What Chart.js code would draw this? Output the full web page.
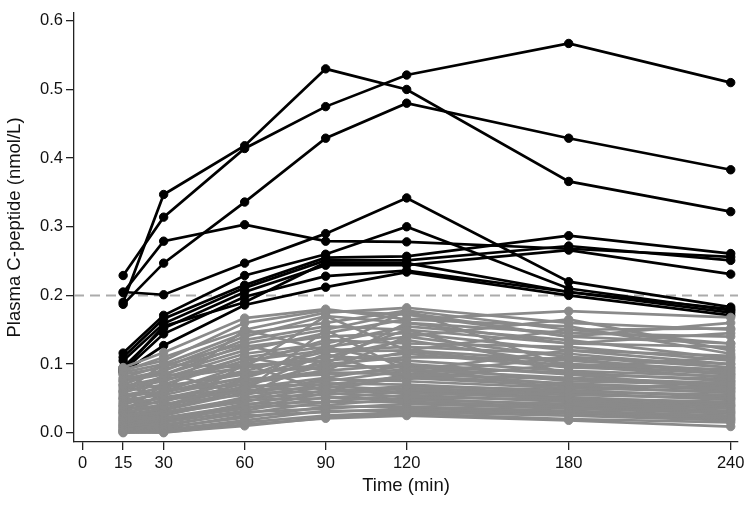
<!DOCTYPE html>
<html>
<head>
<meta charset="utf-8">
<title>Plasma C-peptide</title>
<script src="https://cdn.jsdelivr.net/npm/chart.js@4.4.0/dist/chart.umd.min.js"></script>
<style>
  html, body { margin: 0; padding: 0; background: #fff; }
  #grafico { display: block; }
</style>
</head>
<body>
<canvas id="grafico" width="754" height="508"></canvas>
<script>
// --- Dados ---
const tempos = [15, 30, 60, 90, 120, 180, 240];
const ticksX = [0, 15, 30, 60, 90, 120, 180, 240];
const ticksY = [0, 0.1, 0.2, 0.3, 0.4, 0.5, 0.6];
const limiar = 0.2; // linha tracejada

// pacientes com pico acima do limiar (pretos)
const respondedores = [
  [0.190, 0.347, 0.418, 0.530, 0.500, 0.366, 0.322],
  [0.229, 0.314, 0.414, 0.475, 0.521, 0.567, 0.510],
  [0.187, 0.247, 0.336, 0.429, 0.480, 0.429, 0.383],
  [0.204, 0.279, 0.303, 0.279, 0.278, 0.268, 0.256],
  [0.205, 0.201, 0.247, 0.290, 0.342, 0.220, 0.183],
  [0.116, 0.171, 0.229, 0.260, 0.300, 0.210, 0.178],
  [0.110, 0.166, 0.215, 0.255, 0.257, 0.287, 0.261],
  [0.105, 0.159, 0.211, 0.251, 0.251, 0.272, 0.251],
  [0.095, 0.152, 0.205, 0.244, 0.244, 0.266, 0.231],
  [0.090, 0.144, 0.198, 0.228, 0.236, 0.205, 0.180],
  [0.088, 0.127, 0.186, 0.212, 0.234, 0.200, 0.171],
  [0.092, 0.155, 0.190, 0.248, 0.247, 0.205, 0.175]
];

// demais pacientes (cinza)
const naoRespondedores = [
  [0.095, 0.117, 0.167, 0.180, 0.165, 0.177, 0.168],
  [0.090, 0.110, 0.150, 0.175, 0.182, 0.160, 0.150],
  [0.088, 0.100, 0.145, 0.160, 0.178, 0.150, 0.152],
  [0.085, 0.095, 0.140, 0.170, 0.160, 0.145, 0.140],
  [0.080, 0.098, 0.130, 0.150, 0.175, 0.140, 0.130],
  [0.078, 0.090, 0.135, 0.155, 0.150, 0.130, 0.125],
  [0.075, 0.085, 0.120, 0.145, 0.165, 0.155, 0.115],
  [0.070, 0.092, 0.125, 0.140, 0.145, 0.120, 0.112],
  [0.068, 0.080, 0.115, 0.130, 0.155, 0.135, 0.108],
  [0.065, 0.075, 0.110, 0.125, 0.140, 0.110, 0.100],
  [0.062, 0.082, 0.100, 0.135, 0.130, 0.125, 0.105],
  [0.060, 0.070, 0.105, 0.120, 0.125, 0.115, 0.095],
  [0.058, 0.078, 0.095, 0.110, 0.135, 0.100, 0.092],
  [0.055, 0.065, 0.090, 0.118, 0.120, 0.105, 0.090],
  [0.052, 0.060, 0.098, 0.105, 0.115, 0.095, 0.088],
  [0.050, 0.068, 0.085, 0.100, 0.110, 0.108, 0.085],
  [0.048, 0.055, 0.080, 0.112, 0.105, 0.090, 0.082],
  [0.045, 0.058, 0.088, 0.095, 0.118, 0.098, 0.080],
  [0.043, 0.050, 0.075, 0.090, 0.100, 0.085, 0.078],
  [0.040, 0.062, 0.070, 0.098, 0.095, 0.088, 0.075],
  [0.038, 0.045, 0.078, 0.085, 0.092, 0.080, 0.072],
  [0.036, 0.052, 0.065, 0.080, 0.098, 0.075, 0.070],
  [0.034, 0.040, 0.072, 0.088, 0.085, 0.078, 0.068],
  [0.032, 0.048, 0.060, 0.075, 0.090, 0.070, 0.065],
  [0.030, 0.038, 0.068, 0.070, 0.082, 0.072, 0.062],
  [0.028, 0.042, 0.055, 0.078, 0.075, 0.065, 0.060],
  [0.026, 0.035, 0.062, 0.065, 0.080, 0.068, 0.058],
  [0.024, 0.030, 0.050, 0.072, 0.070, 0.060, 0.055],
  [0.022, 0.033, 0.058, 0.060, 0.068, 0.062, 0.052],
  [0.020, 0.028, 0.045, 0.068, 0.062, 0.055, 0.050],
  [0.018, 0.025, 0.052, 0.055, 0.065, 0.058, 0.048],
  [0.016, 0.022, 0.040, 0.062, 0.058, 0.050, 0.045],
  [0.015, 0.026, 0.048, 0.050, 0.060, 0.052, 0.042],
  [0.013, 0.020, 0.035, 0.058, 0.052, 0.048, 0.040],
  [0.012, 0.018, 0.042, 0.045, 0.055, 0.045, 0.038],
  [0.010, 0.015, 0.032, 0.052, 0.048, 0.042, 0.035],
  [0.008, 0.016, 0.038, 0.040, 0.050, 0.040, 0.032],
  [0.007, 0.012, 0.028, 0.045, 0.045, 0.038, 0.030],
  [0.005, 0.010, 0.030, 0.035, 0.042, 0.035, 0.028],
  [0.004, 0.008, 0.022, 0.038, 0.038, 0.032, 0.025],
  [0.003, 0.006, 0.025, 0.030, 0.035, 0.030, 0.022],
  [0.002, 0.004, 0.018, 0.032, 0.032, 0.028, 0.020],
  [0.001, 0.002, 0.015, 0.025, 0.030, 0.025, 0.018],
  [0.000, 0.001, 0.010, 0.022, 0.028, 0.020, 0.015],
  [0.001, 0.000, 0.012, 0.021, 0.025, 0.018, 0.009],
  [0.060, 0.100, 0.095, 0.170, 0.120, 0.150, 0.130],
  [0.085, 0.060, 0.150, 0.120, 0.178, 0.095, 0.110],
  [0.040, 0.085, 0.128, 0.100, 0.160, 0.130, 0.145],
  [0.070, 0.050, 0.060, 0.150, 0.090, 0.120, 0.100],
  [0.030, 0.070, 0.110, 0.090, 0.140, 0.165, 0.120],
  [0.092, 0.105, 0.160, 0.178, 0.172, 0.140, 0.160],
  [0.020, 0.060, 0.080, 0.125, 0.100, 0.060, 0.075],
  [0.050, 0.030, 0.100, 0.060, 0.085, 0.110, 0.095],
  [0.075, 0.088, 0.055, 0.108, 0.150, 0.085, 0.065],
  [0.010, 0.040, 0.065, 0.115, 0.078, 0.100, 0.085]
];

// limites dos eixos (para a moldura ficar no mesmo lugar)
const xMin = -3.2, xMax = 242.7;
const yMin = -0.0135, yMax = 0.6115;

const preto = '#000000';
const cinza = '#8a8a8a';
const corEixo = '#222222';
const fonte = "'Liberation Sans', Arial, Helvetica, sans-serif";

function serie(valores, cor, ordem) {
  return {
    data: tempos.map((t, i) => ({ x: t, y: valores[i] })),
    showLine: true,
    borderColor: cor,
    backgroundColor: cor,
    borderWidth: 2.7,
    pointRadius: 4.2,
    pointBorderWidth: 1,
    pointBorderColor: cor,
    order: ordem
  };
}

const datasets = [];
// linha tracejada do limiar
datasets.push({
  data: [{ x: xMin, y: limiar }, { x: xMax, y: limiar }],
  showLine: true,
  borderColor: '#ababab',
  borderWidth: 2,
  borderDash: [10, 6],
  pointRadius: 0,
  order: 3
});
naoRespondedores.forEach(v => datasets.push(serie(v, cinza, 1)));
respondedores.forEach(v => datasets.push(serie(v, preto, 2)));

new Chart(document.getElementById('grafico'), {
  type: 'scatter',
  data: { datasets },
  options: {
    responsive: false,
    animation: false,
    layout: { padding: { top: 12, right: 16, left: 0, bottom: 0 } },
    plugins: {
      legend: { display: false },
      tooltip: { enabled: false }
    },
    scales: {
      x: {
        type: 'linear',
        min: xMin,
        max: xMax,
        afterBuildTicks: s => { s.ticks = ticksX.map(v => ({ value: v })); },
        afterFit: s => { s.height = 66; },
        grid: { drawOnChartArea: false, drawTicks: true, tickLength: 8, color: corEixo, lineWidth: 1.3 },
        border: { display: true, color: corEixo, width: 1.3 },
        ticks: {
          autoSkip: false,
          maxRotation: 0,
          padding: 4,
          color: '#111',
          font: { family: fonte, size: 16.5 },
          callback: v => String(v)
        },
        title: {
          display: true,
          text: 'Time (min)',
          color: '#111',
          font: { family: fonte, size: 18.5 },
          padding: { top: 0, bottom: 11 }
        }
      },
      y: {
        min: yMin,
        max: yMax,
        afterBuildTicks: s => { s.ticks = ticksY.map(v => ({ value: v })); },
        afterFit: s => { s.width = 74; },
        grid: { drawOnChartArea: false, drawTicks: true, tickLength: 8, color: corEixo, lineWidth: 1.3 },
        border: { display: true, color: corEixo, width: 1.3 },
        ticks: {
          autoSkip: false,
          padding: 3,
          color: '#111',
          font: { family: fonte, size: 16.5 },
          callback: v => Number(v).toFixed(1)
        },
        title: {
          display: true,
          text: 'Plasma C-peptide (nmol/L)',
          color: '#111',
          font: { family: fonte, size: 18.5 },
          padding: { top: 4, bottom: 0 }
        }
      }
    }
  }
});
</script>
</body>
</html>
